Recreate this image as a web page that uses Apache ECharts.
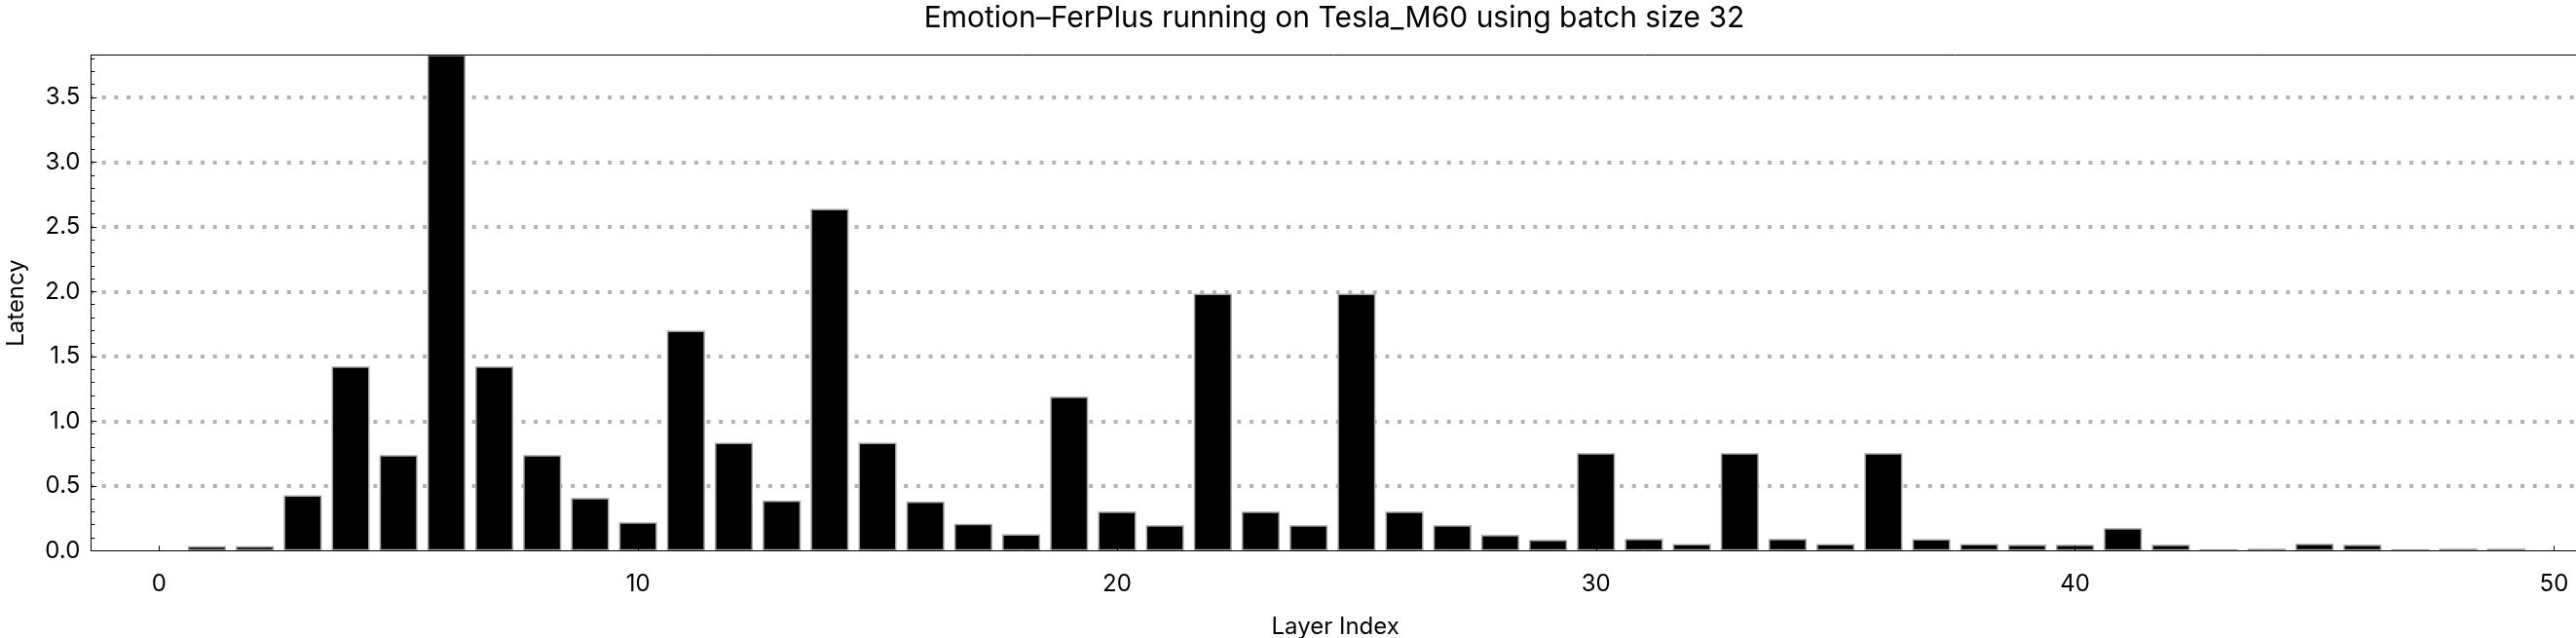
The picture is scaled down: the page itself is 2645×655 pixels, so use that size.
<!DOCTYPE html>
<html>
<head>
<meta charset="utf-8">
<script src="https://cdn.jsdelivr.net/npm/echarts@6/dist/echarts.min.js"></script>
<style>
html,body{margin:0;padding:0;background:#fff;}
#chart{width:2645px;height:655px;}
</style>
</head>
<body>
<div id="chart"></div>
<script>
const titleText = 'Emotion\u2013FerPlus running on Tesla_M60 using batch size 32';
const xAxisName = 'Layer Index';
const yAxisName = 'Latency';
const layerIndex = [1,2,3,4,5,6,7,8,9,10,11,12,13,14,15,16,17,18,19,20,21,22,23,24,25,26,27,28,29,30,31,32,33,34,35,36,37,38,39,40,41,42,43,44,45,46,47,48,49];
const latency = [0.035,0.035,0.428,1.422,0.737,3.83,1.422,0.737,0.406,0.218,1.699,0.834,0.385,2.639,0.834,0.379,0.208,0.127,1.189,0.301,0.196,1.985,0.301,0.196,1.985,0.301,0.196,0.120,0.083,0.753,0.090,0.051,0.753,0.090,0.051,0.753,0.088,0.051,0.045,0.045,0.173,0.045,0.012,0.015,0.053,0.045,0.012,0.015,0.015];
const xTickValues = [0,10,20,30,40,50];
const yTickValues = [0,0.5,1,1.5,2,2.5,3,3.5];

const FONT = 'Inter';
const chart = echarts.init(document.getElementById('chart'), null, {renderer:'canvas'});
const xMin = -1.423, xMax = 50.54, yMax = 3.826;

chart.setOption({
  animation: false,
  backgroundColor: '#ffffff',
  title: {
    text: titleText,
    left: 1370,
    top: 4,
    padding: 0,
    textAlign: 'center',
    textStyle: {fontFamily: FONT, fontSize: 30, fontWeight: 'normal', color: '#000'}
  },
  grid: {left: 93.3, top: 56.7, right: -4, bottom: 89.7, containLabel: false, outerBoundsMode: 'none'},
  xAxis: [{
    type: 'value',
    min: xMin, max: xMax,
    name: xAxisName,
    nameLocation: 'middle',
    nameGap: 66,
    nameTextStyle: {fontFamily: FONT, fontSize: 24, color: '#000'},
    axisLine: {show: true, onZero: false, lineStyle: {color: '#000', width: 1}},
    axisTick: {show: true, inside: true, length: 5, customValues: xTickValues, lineStyle: {color: '#000'}},
    axisLabel: {customValues: xTickValues, fontFamily: FONT, fontSize: 24, color: '#000', margin: 22},
    splitLine: {show: false},
    z: 10
  }, {
    type: 'value',
    position: 'top',
    min: xMin, max: xMax,
    axisLine: {show: true, onZero: false, lineStyle: {color: '#000', width: 1}},
    axisTick: {show: false},
    axisLabel: {show: false},
    splitLine: {show: false},
    z: 20
  }],
  yAxis: {
    type: 'value',
    min: 0, max: yMax, interval: 0.5,
    name: yAxisName,
    nameLocation: 'middle',
    nameGap: 65,
    nameTextStyle: {fontFamily: FONT, fontSize: 24, color: '#000'},
    axisLine: {show: true, onZero: false, lineStyle: {color: '#000', width: 1}},
    axisTick: {show: true, inside: true, length: 6, customValues: yTickValues, lineStyle: {color: '#000'}},
    minorTick: {show: true, splitNumber: 5, length: 4, lineStyle: {color: '#000'}},
    axisLabel: {
      customValues: yTickValues,
      fontFamily: FONT, fontSize: 24, color: '#000', margin: 11,
      formatter: v => v.toFixed(1)
    },
    splitLine: {
      show: true, showMinLine: false,
      lineStyle: {color: '#b3b3b3', width: 4, type: [4, 8.67], dashOffset: 1.3}
    },
    z: 0
  },
  series: [{
    type: 'bar',
    data: layerIndex.map((x, i) => [x, latency[i]]),
    barWidth: 39,
    clip: true,
    itemStyle: {color: '#000', borderColor: '#a0a0a0', borderWidth: 1.5},
    z: 2
  }]
});
</script>
</body>
</html>
